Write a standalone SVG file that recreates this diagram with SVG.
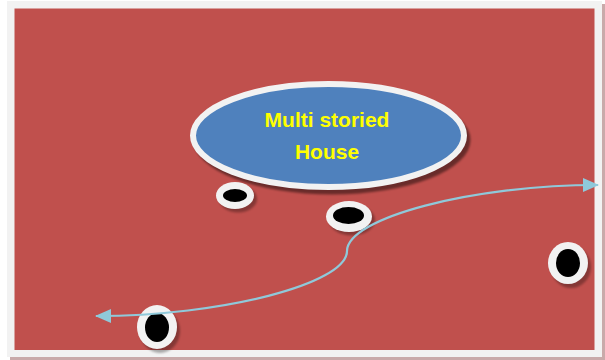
<svg xmlns="http://www.w3.org/2000/svg" width="605" height="360" viewBox="0 0 605 360">
<style>
.ring{fill:#f2f2f2}
.hole{fill:#000000}
.shadow{fill:#000000;opacity:0.3}
.label{font-family:"Liberation Sans",Arial,sans-serif;font-weight:bold;font-size:21px;fill:#ffff00;text-anchor:middle}
.conn{fill:none;stroke:#8fc9da;stroke-width:2.2}
</style>
<defs>
<filter id="blur" x="-20%" y="-20%" width="140%" height="140%"><feGaussianBlur stdDeviation="1"/></filter>
<marker id="arrow" viewBox="0 0 16 14" refX="15" refY="7" markerWidth="16" markerHeight="14" markerUnits="userSpaceOnUse" orient="auto-start-reverse">
<path d="M0,0 L16,7 L0,14 Z" fill="#8fc9da"/>
</marker>
</defs>
<rect x="0" y="0" width="605" height="360" fill="#ffffff"/>
<rect x="10" y="4" width="595" height="356" fill="#c9aaaa"/>
<rect x="7" y="1" width="595" height="356" fill="#f2f2f2"/>
<rect x="14.5" y="8.5" width="580" height="341.5" fill="#c0504d"/>

<g id="house">
<ellipse cx="332" cy="140" rx="138.5" ry="54.5" fill="#000000" filter="url(#blur)" opacity="0.45"/>
<ellipse cx="328.5" cy="135.5" rx="135.5" ry="51.5" fill="#4f81bd" stroke="#f2f2f2" stroke-width="6"/>
<text class="label" x="327" y="127">Multi storied</text>
<text class="label" x="327" y="159">House</text>
</g>

<g id="ring1">
<ellipse class="shadow" cx="238" cy="199" rx="19" ry="13.5" filter="url(#blur)"/>
<ellipse class="ring" cx="235" cy="195.5" rx="19" ry="13.5"/>
<ellipse class="hole" cx="235" cy="195.5" rx="12" ry="6.5"/>
</g>
<g id="ring2">
<ellipse class="shadow" cx="352" cy="220" rx="23" ry="15.5" filter="url(#blur)"/>
<ellipse class="ring" cx="349" cy="216.5" rx="23" ry="15.5"/>
<ellipse class="hole" cx="348.5" cy="215.5" rx="15.5" ry="8.5"/>
</g>
<g id="ring3">
<ellipse class="shadow" cx="571" cy="267" rx="20" ry="21" filter="url(#blur)"/>
<ellipse class="ring" cx="568" cy="263" rx="20" ry="21"/>
<ellipse class="hole" cx="568" cy="263" rx="12" ry="14"/>
</g>
<g id="ring4">
<ellipse class="shadow" cx="160" cy="331" rx="20" ry="22" filter="url(#blur)"/>
<ellipse class="ring" cx="157" cy="327" rx="20" ry="22"/>
<ellipse class="hole" cx="157" cy="327.5" rx="12" ry="14.5"/>
</g>

<g id="connectors">
<path class="conn" d="M96,316 C221,316 347,284 347,251 C347,218 472,185 598,185" marker-start="url(#arrow)" marker-end="url(#arrow)"/>
</g>
</svg>
